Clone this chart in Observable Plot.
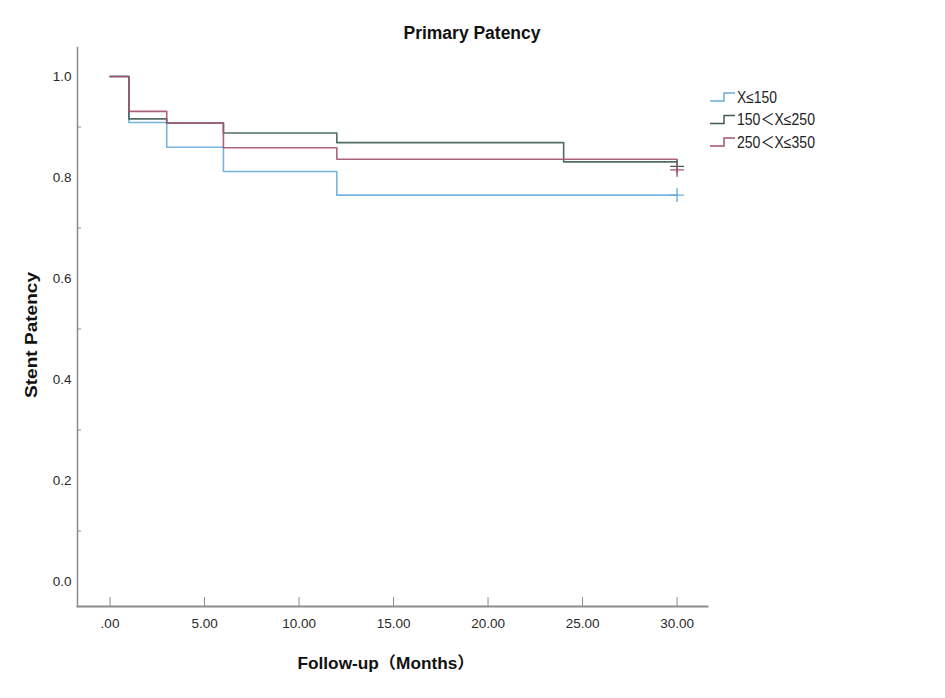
<!DOCTYPE html>
<html>
<head>
<meta charset="utf-8">
<script src="https://cdn.jsdelivr.net/npm/d3@7"></script>
<script src="https://cdn.jsdelivr.net/npm/@observablehq/plot@0.6"></script>
<style>
  body { margin: 0; background: #fff; }
  #chart { position: relative; width: 945px; height: 698px; }
  #chart svg { display: block; }
</style>
</head>
<body>
<div id="chart"></div>
<script>
// Stent length groups and their curve colours
const groups = ["X≤150", "150＜X≤250", "250＜X≤350"];
const colors = ["#68acd8", "#3f5d55", "#a5516f"];

// Kaplan–Meier steps: event times (months) and cumulative patency
const timesA = [0, 1, 3, 6, 12, 30];
const survA  = [1.0, 0.909, 0.860, 0.812, 0.765, 0.765];
const timesB = [0, 1, 3, 6, 12, 24, 30];
const survB  = [1.0, 0.916, 0.908, 0.888, 0.869, 0.831, 0.831];
const timesC = [0, 1, 3, 6, 12, 30];
const survC  = [1.0, 0.931, 0.908, 0.859, 0.836, 0.836];

// Censored observations at the end of follow-up
const censorTime = [30, 30, 30];
const censorSurv = [0.765, 0.822, 0.815];

// Axis ticks
const xTicks  = [0, 5, 10, 15, 20, 25, 30];
const yLabels = [0, 0.2, 0.4, 0.6, 0.8, 1.0];
const yMinor  = [0.1, 0.3, 0.5, 0.7, 0.9];

const series = [
  ...timesA.map((t, i) => ({g: groups[0], t, s: survA[i]})),
  ...timesB.map((t, i) => ({g: groups[1], t, s: survB[i]})),
  ...timesC.map((t, i) => ({g: groups[2], t, s: survC[i]}))
];
const censored = censorTime.map((t, i) => ({g: groups[i], t, s: censorSurv[i]}));

const axisGrey = "#8c8c8c";
const narrow = "'Liberation Sans Narrow', 'Liberation Sans', Arial, sans-serif";
const xFmt = d => d === 0 ? ".00" : d.toFixed(2);

const chart = Plot.plot({
  width: 945,
  height: 698,
  marginLeft: 77,
  marginRight: 238,
  marginTop: 47,
  marginBottom: 92,
  style: {fontFamily: narrow, fontSize: "13.5px", color: "#2a2a2a", background: "#fff"},
  x: {domain: [-1.72, 31.61], axis: null},
  y: {domain: [-0.0495, 1.0574], axis: null},
  color: {domain: groups, range: colors},
  marks: [
    Plot.frame({anchor: "left", stroke: axisGrey, strokeWidth: 1.5}),
    Plot.frame({anchor: "bottom", stroke: axisGrey, strokeWidth: 2}),
    // inward tick marks
    Plot.axisX(xTicks, {anchor: "bottom", tickSize: -9, stroke: axisGrey, fill: "none", label: null}),
    Plot.axisY(yMinor, {anchor: "left", tickSize: -4, stroke: axisGrey, fill: "none", label: null}),
    // tick labels
    Plot.axisX(xTicks, {anchor: "bottom", tickSize: 0, tickPadding: 12, tickFormat: xFmt, fill: "#2a2a2a", label: null}),
    Plot.axisY(yLabels, {anchor: "left", tickSize: 0, tickPadding: 6, tickFormat: d => d.toFixed(1), fill: "#2a2a2a", label: null}),
    Plot.line(series, {x: "t", y: "s", z: "g", stroke: "g", curve: "step-after", strokeWidth: 1.6, strokeOpacity: 0.9}),
    Plot.dot(censored, {x: "t", y: "s", stroke: "g", symbol: "plus", r: 4.5, strokeWidth: 1.4})
  ]
});

document.getElementById("chart").appendChild(chart);

// Titles, axis names and the legend
const svg = d3.select(chart);
const bold = "'Liberation Sans', 'Noto Sans CJK SC', Arial, sans-serif";

svg.append("text")
  .attr("x", 472).attr("y", 39)
  .attr("text-anchor", "middle")
  .attr("font-family", bold).attr("font-weight", "bold").attr("font-size", 17.5)
  .attr("fill", "#111")
  .attr("textLength", 137).attr("lengthAdjust", "spacingAndGlyphs")
  .text("Primary Patency");

svg.append("text")
  .attr("x", 386).attr("y", 669)
  .attr("text-anchor", "middle")
  .attr("font-family", bold).attr("font-weight", "bold").attr("font-size", 16.5)
  .attr("fill", "#111")
  .attr("textLength", 177).attr("lengthAdjust", "spacingAndGlyphs")
  .text("Follow-up（Months）");

svg.append("text")
  .attr("transform", "translate(37,335) rotate(-90)")
  .attr("text-anchor", "middle")
  .attr("font-family", bold).attr("font-weight", "bold").attr("font-size", 16)
  .attr("fill", "#111")
  .attr("textLength", 126).attr("lengthAdjust", "spacingAndGlyphs")
  .text("Stent Patency");

const legend = svg.append("g").attr("transform", "translate(710,101)");
const legendWidths = [40, 78, 78];
groups.forEach((g, i) => {
  const row = legend.append("g").attr("transform", `translate(0,${i * 22.5})`);
  row.append("path")
    .attr("d", "M0,0H14V-8H25")
    .attr("fill", "none")
    .attr("stroke", colors[i])
    .attr("stroke-width", 1.5);
  row.append("text")
    .attr("x", 27).attr("y", 1.5)
    .attr("text-anchor", "start")
    .attr("font-family", "'Liberation Sans Narrow', 'Liberation Sans', 'Noto Sans CJK SC', Arial, sans-serif")
    .attr("font-size", 16)
    .attr("fill", "#222")
    .attr("textLength", legendWidths[i]).attr("lengthAdjust", "spacingAndGlyphs")
    .text(g);
});
</script>
</body>
</html>
